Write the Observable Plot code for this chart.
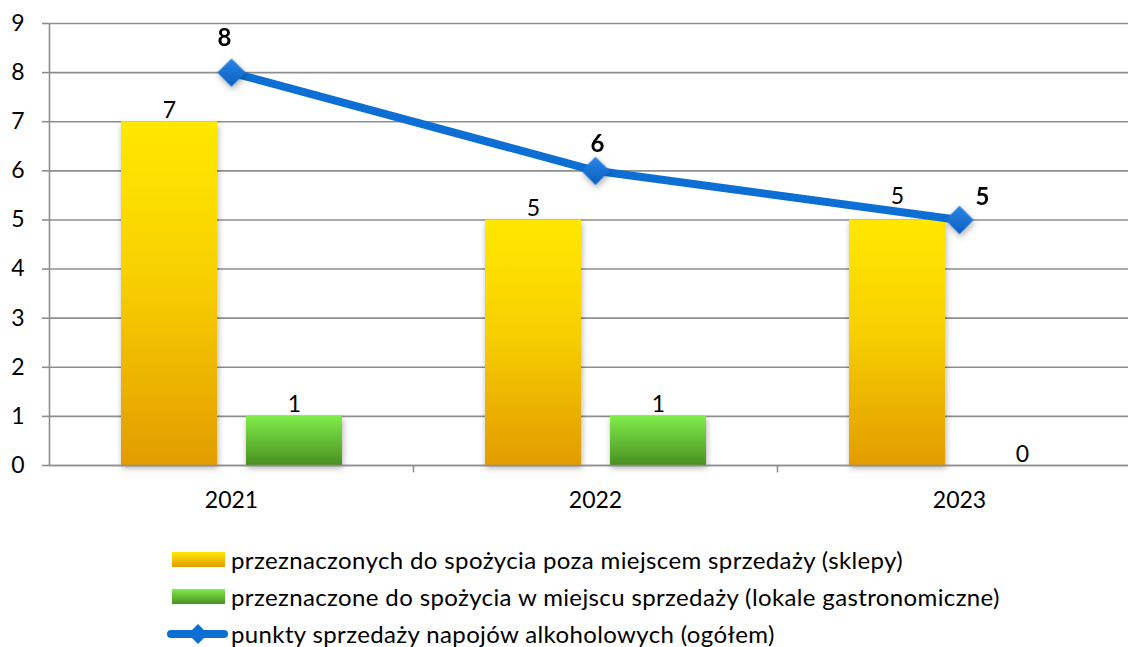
<!DOCTYPE html>
<html><head><meta charset="utf-8">
<script src="https://cdn.jsdelivr.net/npm/d3@7"></script>
<script src="https://cdn.jsdelivr.net/npm/@observablehq/plot@0.6"></script>
<style>
body{margin:0;background:#fff;font-family:Lato, sans-serif;}
#wrap{position:relative;width:1128px;height:647px;overflow:hidden;}
#legend{position:absolute;left:152px;top:541px;}
.row{display:flex;align-items:center;height:37px;font-size:24px;letter-spacing:0.37px;color:#000;white-space:nowrap;}
.row svg{margin-right:3px;flex:none;}
</style></head><body>
<div id="wrap"><div id="chart"></div><div id="legend"></div></div>
<script>
const years = ["2021", "2022", "2023"];
const shops = [7, 5, 5];
const gastro = [1, 1, 0];
const total = [8, 6, 5];
const yTicks = [0, 1, 2, 3, 4, 5, 6, 7, 8, 9];
const seriesNames = [
  "przeznaczonych do spożycia poza miejscem sprzedaży (sklepy)",
  "przeznaczone do spożycia w miejscu sprzedaży (lokale gastronomiczne)",
  "punkty sprzedaży napojów alkoholowych (ogółem)"
];

const data = years.map((y, i) => ({year: y, shops: shops[i], gastro: gastro[i], total: total[i]}));
const FONT = "Lato, sans-serif";
const GRID = "#8e8e8e";
const BLUE = "#0d6fd3";
const byYear = (i) => data.filter(d => d.year === years[i]);

const svg = Plot.plot({
  width: 1128, height: 530,
  marginLeft: 49, marginTop: 23, marginBottom: 65, marginRight: 0,
  style: {fontFamily: FONT, fontSize: "23px", color: "#000", background: "#fff", overflow: "hidden"},
  x: {domain: years, range: [49, 1141], padding: 0, label: null},
  y: {domain: [0, 9], label: null},
  marks: [
    Plot.gridY(yTicks, {stroke: GRID, strokeOpacity: 1, strokeWidth: 1.6}),
    Plot.axisY(yTicks, {tickSize: 7, tickPadding: 18, stroke: GRID, strokeWidth: 1.6, fontSize: 23, label: null}),
    Plot.ruleX(years.slice(0, 1), {y1: 0, y2: 9, dx: -182, stroke: GRID, strokeWidth: 1.6}),
    Plot.ruleX(years.slice(0, 2), {y1: 0, y2: -0.15, dx: 182, stroke: GRID, strokeWidth: 1.6}),
    Plot.axisX({tickSize: 0, tickPadding: 26, fontSize: 23, label: null}),
    Plot.barY(data, {x: "year", y: "shops", fill: "url(#gradYellow)", insetLeft: 72, insetRight: 196}),
    Plot.barY(data, {x: "year", y: "gastro", fill: "url(#gradGreen)", insetLeft: 197, insetRight: 71}),
    Plot.ruleY([0], {stroke: GRID, strokeWidth: 1.6}),
    Plot.text(data.slice(0, 2), {x: "year", y: "shops", text: d => String(d.shops), dx: -62, dy: -4, lineAnchor: "bottom", fontSize: 23}),
    Plot.text(byYear(2), {x: "year", y: "shops", text: d => String(d.shops), dx: -62, dy: -16, lineAnchor: "bottom", fontSize: 23}),
    Plot.text(data, {x: "year", y: "gastro", text: d => String(d.gastro), dx: 63, dy: -4, lineAnchor: "bottom", fontSize: 23}),
    Plot.line(data, {x: "year", y: "total", stroke: BLUE, strokeWidth: 8, strokeLinejoin: "round", strokeLinecap: "round"}),
    Plot.dot(data, {x: "year", y: "total", symbol: "diamond2", r: 12.8, fill: "url(#gradBlue)", stroke: "none"}),
    Plot.text(byYear(0), {x: "year", y: "total", text: d => String(d.total), dx: -7, dy: -34, fontWeight: "bold", fontSize: 24}),
    Plot.text(byYear(1), {x: "year", y: "total", text: d => String(d.total), dx: 2, dy: -27, fontWeight: "bold", fontSize: 24}),
    Plot.text(byYear(2), {x: "year", y: "total", text: d => String(d.total), dx: 23, dy: -23, fontWeight: "bold", fontSize: 24})
  ]
});

const defs = `
<linearGradient id="gradYellow" x1="0" y1="0" x2="0" y2="1">
  <stop offset="0" stop-color="#ffe800"/><stop offset="0.45" stop-color="#f8d000"/><stop offset="1" stop-color="#e29c00"/>
</linearGradient>
<linearGradient id="gradGreen" x1="0" y1="0" x2="0" y2="1">
  <stop offset="0" stop-color="#80ec4a"/><stop offset="1" stop-color="#4a9022"/>
</linearGradient>
<linearGradient id="gradBlue" x1="0" y1="0" x2="0" y2="1">
  <stop offset="0" stop-color="#2a86e6"/><stop offset="1" stop-color="#0b5fc0"/>
</linearGradient>
<filter id="shadow" x="-30%" y="-30%" width="160%" height="160%">
  <feDropShadow dx="1" dy="3" stdDeviation="3" flood-color="#000" flood-opacity="0.3"/>
</filter>`;
const d = document.createElementNS("http://www.w3.org/2000/svg", "defs");
d.innerHTML = defs;
svg.insertBefore(d, svg.firstChild);
d3.select(svg).selectAll("g[aria-label=bar]").attr("filter", "url(#shadow)");
d3.select(svg).selectAll("g[aria-label=dot]").attr("filter", "url(#shadow)");
document.getElementById("chart").appendChild(svg);

const leg = d3.select("#legend");
const sw = [
  `<svg width="76" height="20"><rect x="20" y="2" width="53" height="15" fill="url(#lgY)"/><defs><linearGradient id="lgY" x1="0" y1="0" x2="0" y2="1"><stop offset="0" stop-color="#ffe800"/><stop offset="1" stop-color="#e29c00"/></linearGradient></defs></svg>`,
  `<svg width="76" height="20"><rect x="20" y="2" width="53" height="15" fill="url(#lgG)"/><defs><linearGradient id="lgG" x1="0" y1="0" x2="0" y2="1"><stop offset="0" stop-color="#80ec4a"/><stop offset="1" stop-color="#4a9022"/></linearGradient></defs></svg>`,
  `<svg width="76" height="24"><line x1="19" y1="12" x2="72" y2="12" stroke="${BLUE}" stroke-width="8" stroke-linecap="round"/><path d="M46,2 L56,12 L46,22 L36,12Z" fill="${BLUE}"/></svg>`
];
seriesNames.forEach((name, i) => {
  const r = leg.append("div").attr("class", "row");
  r.html(sw[i]);
  r.append("span").text(name);
});
</script></body></html>
